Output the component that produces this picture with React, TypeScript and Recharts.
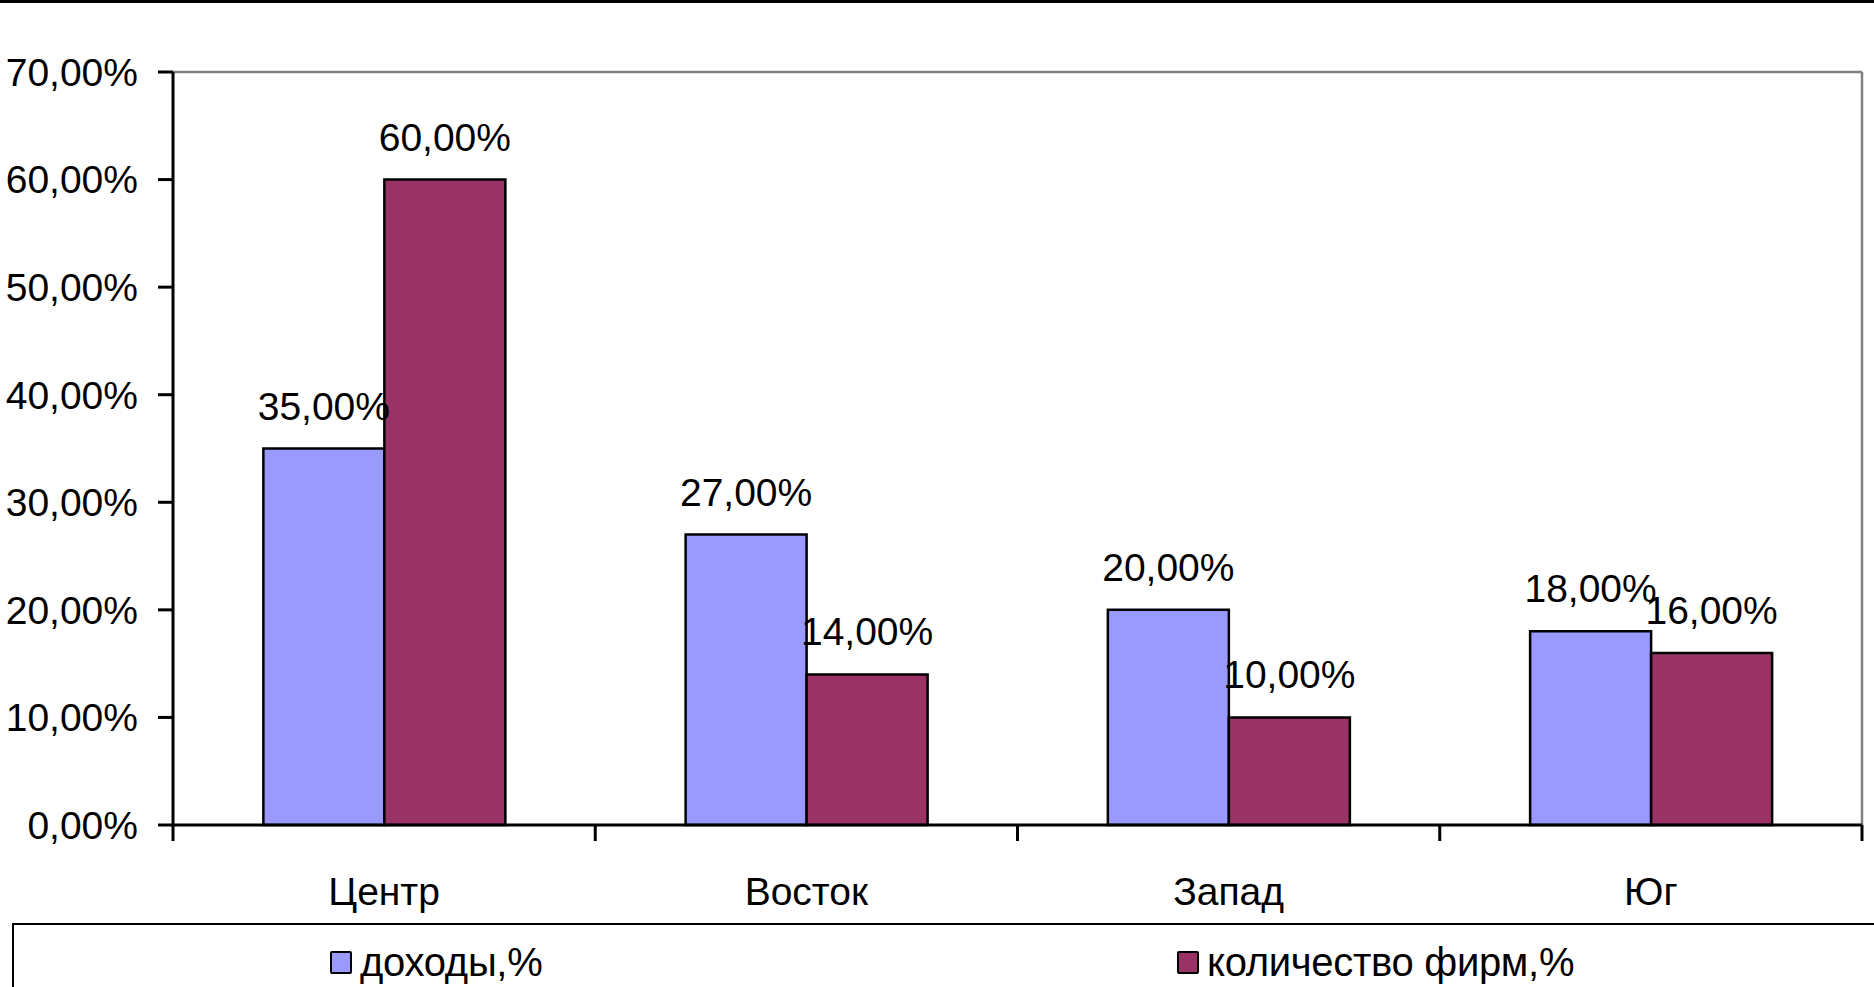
import { BarChart, Bar, XAxis, YAxis, LabelList, ReferenceLine } from "recharts";

const categories = ["Центр", "Восток", "Запад", "Юг"];
const incomePct = [35, 27, 20, 18];
const firmsPct = [60, 14, 10, 16];
const yTicks = [0, 10, 20, 30, 40, 50, 60, 70];
// category boundaries on the bottom axis (tick marks sit between groups)
const edgeTicks = [0, 1, 2, 3, 4];

const BLUE = "#9999ff";
const PLUM = "#993366";
const FONT = "'Liberation Sans', Arial, sans-serif";
const FS = 39;

const data = categories.map((name, i) => ({
  name,
  income: incomePct[i],
  firms: firmsPct[i],
  edge: edgeTicks[i + 1],
}));

const pct = (v: number) => `${Number(v).toFixed(2).replace(".", ",")}%`;

function LegendBox() {
  const item = (color: string, label: string, left: number) => (
    <div style={{ position: "absolute", left, top: 16, display: "flex", alignItems: "center" }}>
      <div
        style={{
          width: 18,
          height: 19,
          background: color,
          border: "2.5px solid #000",
          borderRadius: 2,
          marginRight: 8,
        }}
      />
      <span style={{ fontSize: 40, lineHeight: "42px", letterSpacing: -0.3 }}>{label}</span>
    </div>
  );
  return (
    <div
      style={{
        position: "absolute",
        left: 12,
        top: 923,
        width: 1900,
        height: 120,
        border: "2.5px solid #000",
        fontFamily: FONT,
      }}
    >
      {item(BLUE, "доходы,%", 316)}
      {item(PLUM, "количество фирм,%", 1163)}
    </div>
  );
}

export default function App() {
  return (
    <div
      style={{
        position: "absolute",
        left: 0,
        top: 0,
        width: 1874,
        height: 987,
        overflow: "hidden",
        background: "#fff",
        fontFamily: FONT,
      }}
    >
      <div style={{ position: "absolute", left: 0, top: 0, width: 1874, height: 3, background: "#000" }} />
      <BarChart
        width={1874}
        height={987}
        data={data}
        margin={{ top: 72, right: 12, left: 13, bottom: 101 }}
        barCategoryGap="21.4%"
        barGap={0}
      >
        <XAxis
          xAxisId="a"
          type="number"
          dataKey="edge"
          domain={[0, 4]}
          ticks={edgeTicks}
          interval={0}
          allowDataOverflow
          height={1}
          tickFormatter={() => ""}
          tickSize={16}
          tickLine={{ stroke: "#000", strokeWidth: 3 }}
          axisLine={{ stroke: "#000", strokeWidth: 3 }}
        />
        <XAxis
          xAxisId="b"
          dataKey="name"
          height={60}
          axisLine={false}
          tickLine={false}
          tickSize={0}
          tickMargin={51}
          tick={{ fill: "#000", fontSize: FS, fontFamily: FONT }}
        />
        <YAxis
          domain={[0, 70]}
          ticks={yTicks}
          width={160}
          tickSize={15}
          tickMargin={20}
          tickFormatter={pct}
          stroke="#000"
          strokeWidth={3}
          tick={{ fill: "#000", fontSize: FS, fontFamily: FONT }}
        />
        <ReferenceLine y={70} xAxisId="b" stroke="#808080" strokeWidth={2.5} />
        <ReferenceLine x={4} xAxisId="a" stroke="#808080" strokeWidth={2.5} />
        <Bar xAxisId="b" dataKey="income" fill={BLUE} stroke="#000" strokeWidth={2.5} isAnimationActive={false}>
          <LabelList
            dataKey="income"
            position="top"
            offset={29}
            formatter={pct}
            style={{ fill: "#000", fontSize: FS, fontFamily: FONT }}
          />
        </Bar>
        <Bar xAxisId="b" dataKey="firms" fill={PLUM} stroke="#000" strokeWidth={2.5} isAnimationActive={false}>
          <LabelList
            dataKey="firms"
            position="top"
            offset={29}
            formatter={pct}
            style={{ fill: "#000", fontSize: FS, fontFamily: FONT }}
          />
        </Bar>
      </BarChart>
      <LegendBox />
    </div>
  );
}
